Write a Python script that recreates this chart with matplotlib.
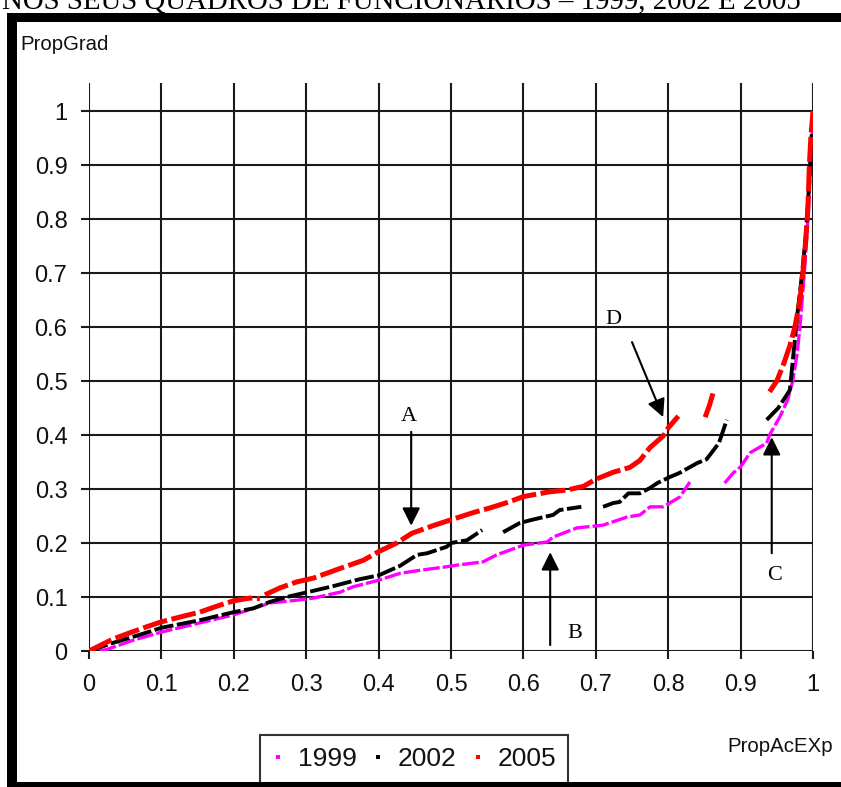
import numpy as np
import matplotlib
matplotlib.use("Agg")
import matplotlib.pyplot as plt
from matplotlib.patches import Rectangle
from matplotlib.lines import Line2D
from matplotlib import font_manager

# ---------------- data ----------------
nan = np.nan
title = "NOS SEUS QUADROS DE FUNCIONÁRIOS – 1999, 2002 E 2005"
series_labels = ["1999", "2002", "2005"]
series_colors = ["#ff00ff", "#000000", "#ff0000"]

x_1999 = [0.015, 0.025, 0.061, 0.10, 0.153, 0.20, 0.25, 0.287, 0.31, 0.33, 0.347, 0.365, 0.40,
          0.43, 0.46, 0.494, 0.508, 0.544, 0.563, 0.60, 0.633, 0.641, 0.674, 0.71, 0.743, 0.761,
          0.775, 0.793, 0.816, 0.83, nan,
          0.878, 0.89, 0.90, 0.913, 0.936, 0.94, 0.954, 0.965, 0.972, 0.978, 0.982, 0.988, 0.993,
          0.996, 0.998, 1.0]
y_1999 = [0.0, 0.003, 0.020, 0.035, 0.052, 0.067, 0.089, 0.094, 0.098, 0.104, 0.109, 0.119, 0.131,
          0.144, 0.150, 0.156, 0.159, 0.165, 0.178, 0.196, 0.202, 0.211, 0.228, 0.233, 0.248, 0.252,
          0.267, 0.267, 0.285, 0.313, nan,
          0.311, 0.330, 0.341, 0.367, 0.385, 0.400, 0.433, 0.465, 0.500, 0.550, 0.600, 0.700, 0.800,
          0.900, 0.950, 0.970]

x_2002 = [0.0, 0.033, 0.07, 0.10, 0.153, 0.20, 0.227, 0.25, 0.273, 0.302, 0.337, 0.374, 0.40, 0.43,
          0.453, 0.467, 0.494, 0.50, 0.522, 0.543, nan,
          0.572, 0.595, 0.612, 0.641, 0.65, 0.68, nan,
          0.71, 0.724, 0.733, 0.745, 0.761, 0.775, 0.785, 0.802, 0.816, 0.84, 0.853, 0.87, 0.881, nan,
          0.936, 0.952, 0.968, 0.973, 0.979, 0.985, 0.99, 0.995, 0.998, 1.0]
y_2002 = [0.0, 0.015, 0.030, 0.043, 0.057, 0.072, 0.079, 0.091, 0.100, 0.109, 0.120, 0.133, 0.140, 0.158,
          0.178, 0.181, 0.193, 0.200, 0.205, 0.224, nan,
          0.220, 0.237, 0.243, 0.252, 0.261, 0.267, nan,
          0.267, 0.274, 0.276, 0.292, 0.292, 0.302, 0.311, 0.322, 0.330, 0.348, 0.355, 0.385, 0.428, nan,
          0.428, 0.450, 0.483, 0.550, 0.630, 0.700, 0.770, 0.870, 0.950, 1.0]

x_2005 = [0.0, 0.015, 0.033, 0.055, 0.08, 0.10, 0.126, 0.153, 0.181, 0.20, 0.222, 0.236, nan,
          0.243, 0.264, 0.287, 0.31, 0.347, 0.379, 0.40, 0.425, 0.446, 0.475, 0.50, 0.53, 0.554, 0.58,
          0.60, 0.637, 0.66, 0.683, 0.70, 0.724, 0.747, 0.761, 0.775, 0.793, 0.80, 0.814, nan,
          0.851, 0.857, 0.862, nan,
          0.94, 0.95, 0.959, 0.968, 0.975, 0.982, 0.986, 0.99, 0.993, 0.995, 0.997, 1.0]
y_2005 = [0.0, 0.010, 0.022, 0.033, 0.045, 0.054, 0.063, 0.072, 0.085, 0.093, 0.098, 0.097, nan,
          0.104, 0.117, 0.128, 0.135, 0.153, 0.168, 0.184, 0.200, 0.218, 0.232, 0.243, 0.256, 0.265, 0.276,
          0.286, 0.295, 0.298, 0.305, 0.318, 0.331, 0.340, 0.353, 0.377, 0.398, 0.413, 0.435, nan,
          0.433, 0.455, 0.478, nan,
          0.480, 0.500, 0.530, 0.565, 0.600, 0.650, 0.700, 0.760, 0.820, 0.900, 0.950, 1.0]

x_ticks = [0, 0.1, 0.2, 0.3, 0.4, 0.5, 0.6, 0.7, 0.8, 0.9, 1]
y_ticks = [0, 0.1, 0.2, 0.3, 0.4, 0.5, 0.6, 0.7, 0.8, 0.9, 1]
x_tick_labels = ["0", "0.1", "0.2", "0.3", "0.4", "0.5", "0.6", "0.7", "0.8", "0.9", "1"]
y_tick_labels = ["0", "0.1", "0.2", "0.3", "0.4", "0.5", "0.6", "0.7", "0.8", "0.9", "1"]

# annotation letters: (letter, text pos, arrow start, arrow tip)
ann_letters = ["A", "B", "C", "D"]
ann_text_xy = [(0.442, 0.435), (0.671, 0.033), (0.947, 0.139), (0.724, 0.613)]
ann_arrow_from = [(0.445, 0.406), (0.637, 0.011), (0.943, 0.181), (0.750, 0.572)]
ann_arrow_to = [(0.445, 0.232), (0.637, 0.183), (0.943, 0.396), (0.793, 0.433)]

# ---------------- fonts ----------------
names = {f.name for f in font_manager.fontManager.ttflist}
narrow = "Liberation Sans Narrow" if "Liberation Sans Narrow" in names else "Liberation Sans"
sans = "Liberation Sans"
serif = "Liberation Serif"

W, H = 841, 787
fig = plt.figure(figsize=(W / 100, H / 100), dpi=100)
fig.patch.set_facecolor("white")

def fx(px):
    return px / W

def fy(py):
    return 1 - py / H

ytop = (651 - 83) / 540.0
ax = fig.add_axes([fx(89), fy(651), fx(813) - fx(89), fy(83) - fy(651)])
ax.set_xlim(0, 1)
ax.set_ylim(0, ytop)
for s in ax.spines.values():
    s.set_visible(False)
ax.set_facecolor("none")

grid_c = "#1a1a1a"
ax.hlines(y_ticks, 0, 1, colors=grid_c, linewidth=1.5, zorder=1)
ax.vlines(x_ticks, 0, ytop, colors=grid_c, linewidth=1.5, zorder=1)

ax.set_xticks(x_ticks)
ax.set_xticklabels(x_tick_labels)
ax.set_yticks(y_ticks)
ax.set_yticklabels(y_tick_labels)
ax.tick_params(axis="both", direction="out", length=5.5, width=1.5, color=grid_c,
               labelcolor="#111111", labelsize=17)
ax.tick_params(axis="y", pad=10)
ax.tick_params(axis="x", pad=11)
for lab in ax.get_xticklabels() + ax.get_yticklabels():
    lab.set_family(narrow)

series = [(x_1999, y_1999, 2.4), (x_2002, y_2002, 2.8), (x_2005, y_2005, 3.6)]
for (xs, ys, lw), col in zip(series, series_colors):
    ax.plot(xs, ys, color=col, linewidth=lw, linestyle=(0, (5, 0.9)), zorder=3,
            solid_capstyle="butt", dash_capstyle="butt")

for letter, txy, a0, a1 in zip(ann_letters, ann_text_xy, ann_arrow_from, ann_arrow_to):
    ax.text(txy[0], txy[1], letter, family=serif, fontsize=16, ha="center", va="center",
            color="black", zorder=5)
    ax.annotate("", xy=a1, xytext=a0,
                arrowprops=dict(arrowstyle="-|>,head_length=0.4,head_width=0.2",
                                mutation_scale=27, lw=1.5, color="black",
                                shrinkA=0, shrinkB=0), zorder=5)

# axis titles
fig.text(fx(20), fy(35), "PropGrad", family=sans, fontsize=14.7, ha="left", va="top",
         color="#111111")
fig.text(fx(727), fy(737), "PropAcEXp", family=sans, fontsize=14.7, ha="left", va="top",
         color="#111111")

# legend
handles = [Line2D([], [], linestyle="none", marker="s", markersize=ms, color=c,
                  markeredgewidth=0)
           for c, ms in zip(series_colors, [3.2, 2.2, 3.2])]
leg = fig.legend(handles, series_labels, loc="center",
                 bbox_to_anchor=(fx(414), fy(759)), ncol=3, frameon=True,
                 fancybox=False, edgecolor="black", prop=dict(family=sans, size=19),
                 handlelength=0.5, handletextpad=0.5, columnspacing=0.55,
                 borderpad=0.45, borderaxespad=0)
leg.get_frame().set_linewidth(1.5)
for t in leg.get_texts():
    t.set_color("#111111")

# outer frame (black border left/top/bottom)
frame_kw = dict(transform=fig.transFigure, facecolor="black", edgecolor="none", zorder=10)
fig.add_artist(Rectangle((fx(7), fy(787)), fx(17) - fx(7), fy(13) - fy(787), **frame_kw))
fig.add_artist(Rectangle((fx(7), fy(22)), 1 - fx(7), fy(13) - fy(22), **frame_kw))
fig.add_artist(Rectangle((fx(7), fy(787)), 1 - fx(7), fy(782) - fy(787), **frame_kw))

# cut-off title on top (as in the source screenshot)
fig.text(fx(2), fy(9), title, family=serif, fontsize=20.8, ha="left", va="baseline",
         color="black")

fig.savefig("out.png", dpi=100)
